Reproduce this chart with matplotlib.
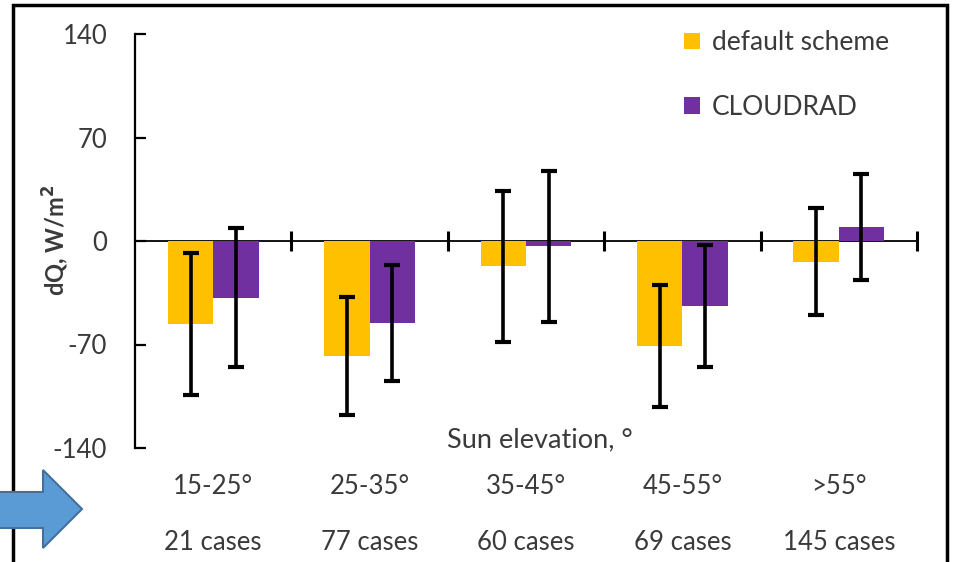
import matplotlib.pyplot as plt
import matplotlib.patches as mpatches
import matplotlib.transforms as mtransforms
import numpy as np

plt.rcParams['font.family'] = ['Lato', 'DejaVu Sans']
plt.rcParams['axes.unicode_minus'] = False

# Sun elevation classes and number of cases
elev_labels = ['15-25°', '25-35°', '35-45°', '45-55°', '>55°']
case_labels = ['21 cases', '77 cases', '60 cases', '69 cases', '145 cases']

# Mean flux error and spread, W/m2
default_dq = [-56, -78, -17, -71, -14]
default_err = [48, 40, 51, 41, 36]
cloudrad_dq = [-38.5, -55.5, -3.5, -44, 9.5]
cloudrad_err = [47, 39, 51, 41, 36]

C_DEFAULT = '#FFC000'
C_CLOUD = '#7030A0'
TXT = '#3a3a3a'
FS = 18.5

W, H = 961, 562
fig = plt.figure(figsize=(W / 100, H / 100), dpi=100)
ax = fig.add_axes([135 / W, 1 - 448 / H, (917 - 135) / W, (448 - 34) / H])

x = np.arange(len(elev_labels)) + 0.5
bw = 0.29

ax.bar(x - bw / 2, default_dq, bw, color=C_DEFAULT, label='default scheme', zorder=2)
ax.bar(x + bw / 2, cloudrad_dq, bw, color=C_CLOUD, label='CLOUDRAD', zorder=2)

err_kw = dict(fmt='none', ecolor='black', elinewidth=2.6, capsize=5.5, capthick=3, zorder=3)
ax.errorbar(x - bw / 2, default_dq, yerr=default_err, **err_kw)
ax.errorbar(x + bw / 2, cloudrad_dq, yerr=cloudrad_err, **err_kw)

ax.set_xlim(0, len(elev_labels))
ax.set_ylim(-140, 140)
ax.set_yticks([-140, -70, 0, 70, 140])

# x axis drawn through zero with ticks between classes
ax.spines['top'].set_visible(False)
ax.spines['right'].set_visible(False)
ax.spines['bottom'].set_position(('data', 0))
ax.spines['bottom'].set_linewidth(1.3)
ax.spines['left'].set_linewidth(1.6)
ax.spines['bottom'].set_zorder(1)
ax.set_xticks(np.arange(1, len(elev_labels) + 1))
ax.set_xticklabels([])
ax.tick_params(axis='x', direction='inout', length=14, width=2.2)
ax.tick_params(axis='y', direction='in', length=8, width=1.6, pad=20,
               labelsize=FS, labelcolor=TXT)

fig.text(56 / W, 1 - 240 / H, 'dQ, W/m$^\\mathbf{2}$', rotation=90, ha='center', va='center',
         fontsize=17, fontweight='bold', color=TXT)

trans = mtransforms.blended_transform_factory(ax.transData, fig.transFigure)
for xi, el, cs in zip(x, elev_labels, case_labels):
    ax.text(xi, 1 - 487 / H, el, transform=trans, ha='center', va='center',
            fontsize=FS, color=TXT)
    ax.text(xi, 1 - 543 / H, cs, transform=trans, ha='center', va='center',
            fontsize=FS, color=TXT)

fig.text(540 / W, 1 - 440 / H, 'Sun elevation, °', ha='center', va='center',
         fontsize=19.5, color=TXT)

ax.legend(loc='upper left', bbox_to_anchor=(671 / W, 1 - 17 / H),
          bbox_transform=fig.transFigure, frameon=False, fontsize=19,
          handlelength=0.6, handleheight=0.6, handletextpad=0.45,
          labelspacing=1.5, borderpad=0, labelcolor=TXT)

# outer chart frame
frame = mpatches.Rectangle((13 / W, -0.2), (947 - 13) / W, 1.2 - 5 / H,
                           transform=fig.transFigure, fill=False,
                           edgecolor='black', linewidth=2.5, zorder=5)
fig.patches.append(frame)

# pointer arrow on the left
arrow_px = [(-5, 492), (43, 492), (43, 470), (82, 509), (43, 548), (43, 528), (-5, 528)]
arrow = mpatches.Polygon([(px / W, 1 - py / H) for px, py in arrow_px], closed=True,
                         transform=fig.transFigure, facecolor='#5B9BD5',
                         edgecolor='#41719C', linewidth=1.5, zorder=6)
fig.patches.append(arrow)

fig.savefig('out.png', dpi=100)
